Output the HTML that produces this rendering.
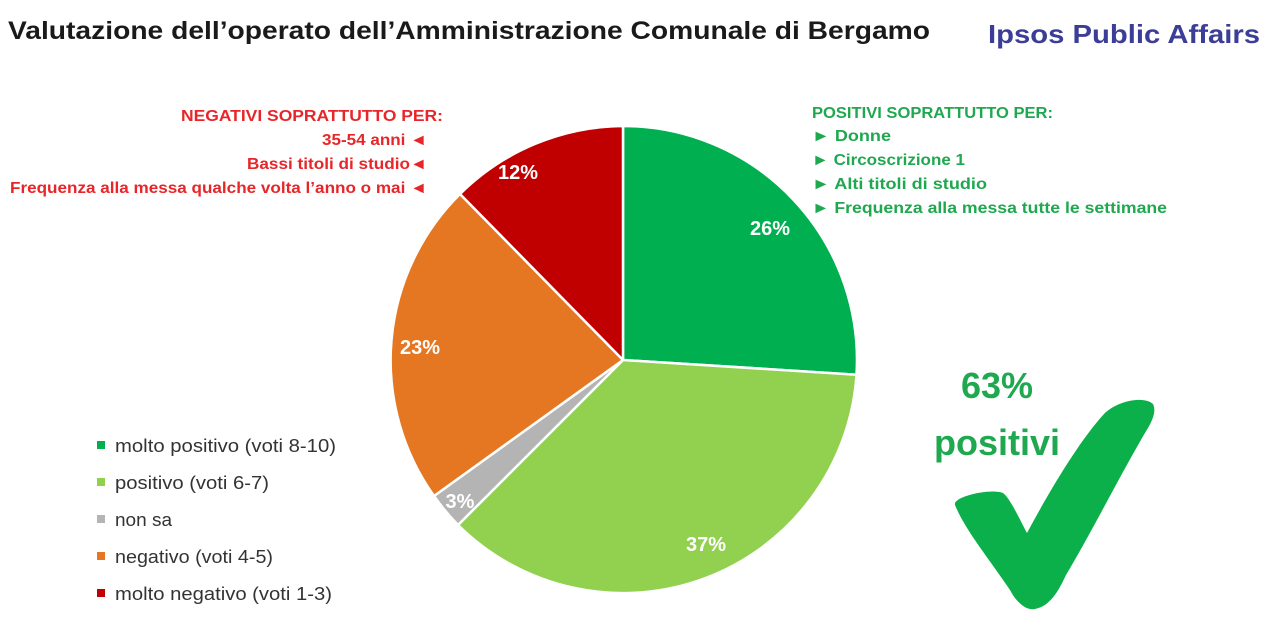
<!DOCTYPE html>
<html><head><meta charset="utf-8"><style>
html,body{margin:0;padding:0;background:#fff;}
svg{display:block;font-family:"Liberation Sans",sans-serif;}
</style></head><body>
<svg width="1280" height="632" viewBox="0 0 1280 632" xmlns="http://www.w3.org/2000/svg">
<text x="8" y="39" font-size="25" font-weight="bold" fill="#1a1a1a" textLength="922" lengthAdjust="spacingAndGlyphs">Valutazione dell’operato dell’Amministrazione Comunale di Bergamo</text>
<text x="988" y="43" font-size="26" font-weight="bold" fill="#3b3d96" textLength="272" lengthAdjust="spacingAndGlyphs">Ipsos Public Affairs</text>

<g stroke="#fff" stroke-width="2.5" stroke-linejoin="round">
<path d="M623,360 L623,126 A234,234 0 0 1 856.5,374.7 Z" fill="#00b050"/>
<path d="M623,360 L856.5,374.7 A234,234 0 0 1 458,525 Z" fill="#92d050"/>
<path d="M623,360 L458,525 A234,234 0 0 1 434,496 Z" fill="#b4b4b4"/>
<path d="M623,360 L434,496 A234,234 0 0 1 460,194 Z" fill="#e57722"/>
<path d="M623,360 L460,194 A234,234 0 0 1 623,126 Z" fill="#c00000"/>
</g>
<g fill="#fff" font-weight="bold" font-size="20" text-anchor="middle">
<text x="770" y="235">26%</text>
<text x="706" y="551">37%</text>
<text x="460" y="508">3%</text>
<text x="420" y="354">23%</text>
<text x="518" y="179">12%</text>
</g>

<g fill="#e8262a" font-weight="bold" font-size="16">
<text x="181" y="121" textLength="262" lengthAdjust="spacingAndGlyphs">NEGATIVI SOPRATTUTTO PER:</text>
<text x="322" y="145" textLength="105" lengthAdjust="spacingAndGlyphs">35-54 anni ◄</text>
<text x="247" y="169" textLength="180" lengthAdjust="spacingAndGlyphs">Bassi titoli di studio◄</text>
<text x="10" y="193" textLength="417" lengthAdjust="spacingAndGlyphs">Frequenza alla messa qualche volta l’anno o mai ◄</text>
</g>
<g fill="#1fa84f" font-weight="bold" font-size="16">
<text x="812" y="118" textLength="241" lengthAdjust="spacingAndGlyphs">POSITIVI SOPRATTUTTO PER:</text>
<text x="812" y="141" textLength="79" lengthAdjust="spacingAndGlyphs">► Donne</text>
<text x="812" y="165" textLength="153" lengthAdjust="spacingAndGlyphs">► Circoscrizione 1</text>
<text x="812" y="189" textLength="175" lengthAdjust="spacingAndGlyphs">► Alti titoli di studio</text>
<text x="812" y="213" textLength="355" lengthAdjust="spacingAndGlyphs">► Frequenza alla messa tutte le settimane</text>
</g>

<g font-size="18" fill="#333">
<rect x="97" y="441" width="8" height="8" fill="#00b050"/><text x="115" y="452" textLength="221" lengthAdjust="spacingAndGlyphs">molto positivo (voti 8-10)</text>
<rect x="97" y="478" width="8" height="8" fill="#92d050"/><text x="115" y="489" textLength="154" lengthAdjust="spacingAndGlyphs">positivo (voti 6-7)</text>
<rect x="97" y="515" width="8" height="8" fill="#b4b4b4"/><text x="115" y="526" textLength="57" lengthAdjust="spacingAndGlyphs">non sa</text>
<rect x="97" y="552" width="8" height="8" fill="#e57722"/><text x="115" y="563" textLength="158" lengthAdjust="spacingAndGlyphs">negativo (voti 4-5)</text>
<rect x="97" y="589" width="8" height="8" fill="#c00000"/><text x="115" y="600" textLength="217" lengthAdjust="spacingAndGlyphs">molto negativo (voti 1-3)</text>
</g>

<g fill="#1fa84f" font-weight="bold" text-anchor="middle" font-size="36">
<text x="997" y="398">63%</text>
<text x="997" y="455">positivi</text>
</g>
<path d="M955,505 C952,497 990,488 1003,493 C1010,498 1020,520 1027,533 C1050,490 1080,440 1104,414 C1118,400 1145,396 1153,404 C1158,414 1148,428 1142,438 C1115,485 1090,535 1066,575 C1058,592 1050,606 1035,609 C1025,611 1015,600 1010,590 C990,560 965,530 955,505 Z" fill="#0cb04a"/>
</svg>
</body></html>
